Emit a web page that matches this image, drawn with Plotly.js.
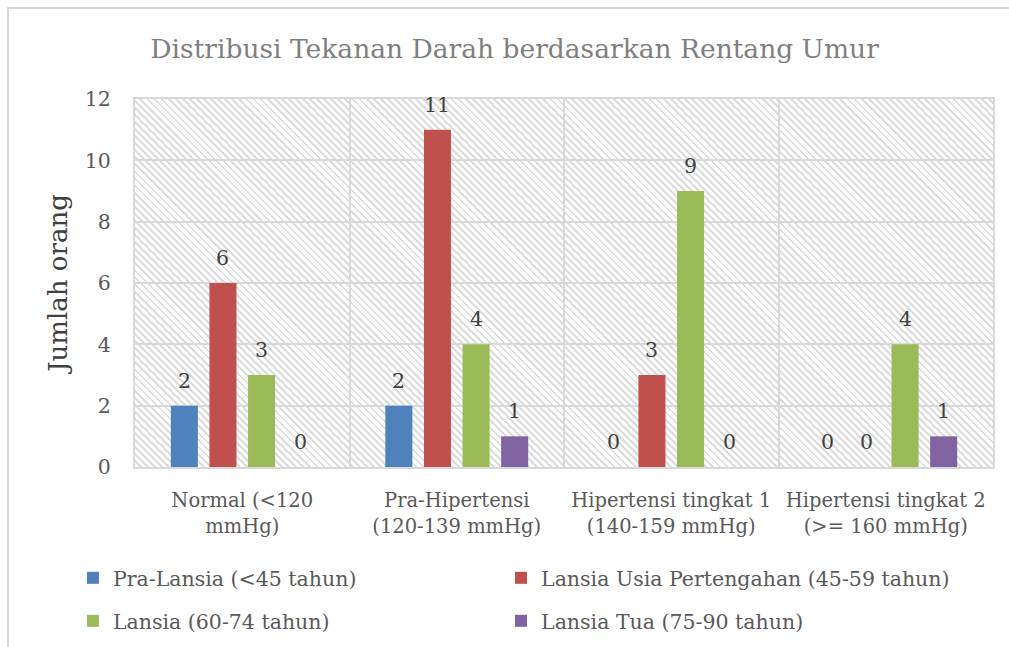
<!DOCTYPE html>
<html>
<head>
<meta charset="utf-8">
<script src="https://cdn.plot.ly/plotly-3.0.1.min.js"></script>
<style>
  html, body { margin: 0; padding: 0; background: #ffffff; }
  #wrap { position: relative; width: 1009px; height: 647px; overflow: hidden; }
  #frame { position: absolute; left: 7px; top: 7px; right: -5px; bottom: -5px;
           border-left: 2px solid #d9d9d9; border-top: 2px solid #d9d9d9; }
  #hatch { position: absolute; left: 135px; top: 99px; width: 858px; height: 368px;
           background: repeating-linear-gradient(45deg, #ffffff 0px, #ffffff 3px, #dcdcdc 3px, #dcdcdc 5px); }
  #chart { position: absolute; left: 0; top: 0; width: 1009px; height: 647px; }
</style>
</head>
<body>
<div id="wrap">
  <div id="frame"></div>
  <div id="hatch"></div>
  <div id="chart"></div>
</div>
<script>
const categories = [
  "Normal (&lt;120<br>mmHg)",
  "Pra-Hipertensi<br>(120-139 mmHg)",
  "Hipertensi tingkat 1<br>(140-159 mmHg)",
  "Hipertensi tingkat 2<br>(&gt;= 160 mmHg)"
];
const seriesNames = [
  "Pra-Lansia (&lt;45 tahun)",
  "Lansia Usia Pertengahan (45-59 tahun)",
  "Lansia (60-74 tahun)",
  "Lansia Tua (75-90 tahun)"
];
const praLansia = [2, 2, 0, 0];
const lansiaUsiaPertengahan = [6, 11, 3, 0];
const lansia = [3, 4, 9, 4];
const lansiaTua = [0, 1, 0, 1];
const yTicks = [0, 2, 4, 6, 8, 10, 12];

const seriesValues = [praLansia, lansiaUsiaPertengahan, lansia, lansiaTua];
const colors = ["#4f81bd", "#c0504d", "#9bbb59", "#8064a2"];
const legendIds = ["legend", "legend2", "legend3", "legend4"];
const FONT = "DejaVu Serif";

const bargap = 0.28;
const nSeries = seriesValues.length;
const slot = (1 - bargap) / nSeries;

const traces = seriesValues.map((vals, i) => ({
  type: "bar",
  name: seriesNames[i],
  x: categories,
  y: vals,
  marker: { color: colors[i], line: { width: 0 } },
  legend: legendIds[i],
  hoverinfo: "skip"
}));

const annotations = [];
seriesValues.forEach((vals, i) => {
  vals.forEach((v, ci) => {
    annotations.push({
      xref: "x", yref: "y",
      x: ci + (i - (nSeries - 1) / 2) * slot,
      y: v,
      text: String(v),
      showarrow: false,
      yanchor: "middle",
      yshift: 25,
      font: { family: FONT, size: 20.5, color: "#404040" }
    });
  });
});

function legendAt(x, y) {
  return {
    orientation: "v", x: x, xanchor: "left", y: y, yanchor: "middle",
    font: { family: FONT, size: 20.5, color: "#595959" },
    bgcolor: "rgba(0,0,0,0)", borderwidth: 0
  };
}
const colX = [-0.0723, 0.4266];
const rowY = [-0.3016, -0.4185];

const layout = {
  width: 1009, height: 647,
  margin: { l: 135, r: 16, t: 99, b: 180, autoexpand: false },
  paper_bgcolor: "rgba(0,0,0,0)",
  plot_bgcolor: "rgba(0,0,0,0)",
  barmode: "group",
  bargap: bargap,
  bargroupgap: 0.3,
  title: {
    text: "Distribusi Tekanan Darah berdasarkan Rentang Umur",
    font: { family: FONT, size: 26.5, color: "#7f7f7f" },
    x: 0.51, xref: "container", xanchor: "center",
    y: 0.925, yref: "container", yanchor: "middle"
  },
  xaxis: {
    type: "category",
    tickson: "boundaries",
    showgrid: true, gridcolor: "#d9d9d9", gridwidth: 2,
    showline: true, linecolor: "#d9d9d9", linewidth: 2, mirror: true,
    ticks: "", tickangle: 0,
    tickfont: { family: FONT, size: 19.5, color: "#595959" },
    ticklabelstandoff: 15,
    fixedrange: true
  },
  yaxis: {
    range: [0, 12],
    tickvals: yTicks,
    showgrid: true, gridcolor: "#d9d9d9", gridwidth: 2,
    showline: true, linecolor: "#d9d9d9", linewidth: 2, mirror: true,
    zeroline: false,
    ticks: "", tickfont: { family: FONT, size: 20.5, color: "#595959" },
    ticklabelstandoff: 18,
    title: { text: "Jumlah orang", font: { family: FONT, size: 26, color: "#404040" }, standoff: 10 },
    fixedrange: true
  },
  showlegend: true,
  legend: legendAt(colX[0], rowY[0]),
  legend2: legendAt(colX[1], rowY[0]),
  legend3: legendAt(colX[0], rowY[1]),
  legend4: legendAt(colX[1], rowY[1]),
  annotations: annotations
};

Plotly.newPlot("chart", traces, layout, { displayModeBar: false, staticPlot: true });
</script>
</body>
</html>
